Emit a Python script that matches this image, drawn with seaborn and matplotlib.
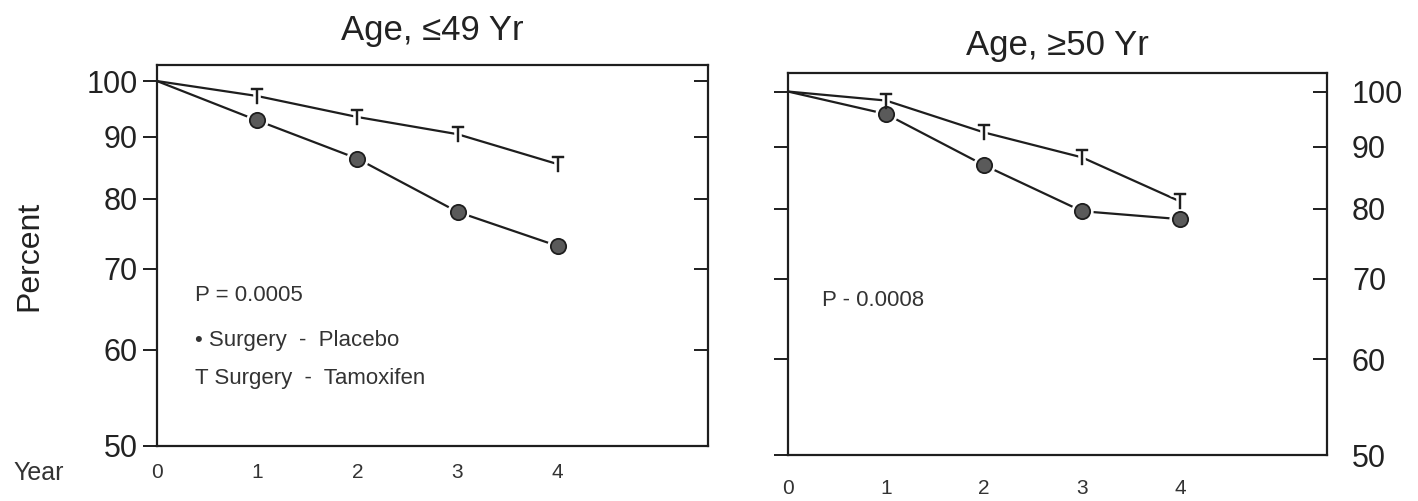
import matplotlib
matplotlib.use("Agg")

import matplotlib.pyplot as plt
import numpy as np
import pandas as pd
import seaborn as sns

# ─── DATA ────────────────────────────────────────────────────────
years = [0, 1, 2, 3, 4]
young_placebo   = [100, 92.8, 86.3, 78.0, 73.1]
young_tamoxifen = [100, 97.2, 93.4, 90.4, 85.4]
old_placebo     = [100, 95.8, 86.9, 79.6, 78.4]
old_tamoxifen   = [100, 98.3, 92.5, 88.2, 81.1]

titles   = ["Age, \u226449 Yr", "Age, \u226550 Yr"]
p_texts  = ["P = 0.0005", "P - 0.0008"]
y_ticks  = [50, 60, 70, 80, 90, 100]
x_ticks  = [0, 1, 2, 3, 4, 5]
x_labels = ["0", "1", "2", "3", "4", ""]

# ─── STYLE ───────────────────────────────────────────────────────
sns.set_style("white")
plt.rcParams["font.family"] = ["Liberation Sans", "DejaVu Sans"]
INK  = "#1e1e1e"
DOT  = "#5a5a5a"
T_MK = r"$\mathrm{T}$"

fig = plt.figure(figsize=(14.18, 5.01), dpi=100)
ax_l = fig.add_axes([0.1107, 0.1098, 0.3886, 0.7605])
ax_r = fig.add_axes([0.5557, 0.0918, 0.3801, 0.7615])


def draw_panel(ax, placebo, tamoxifen):
    df = pd.DataFrame({"year": years * 2,
                       "pct": placebo + tamoxifen,
                       "arm": ["Placebo"] * len(years) + ["Tamoxifen"] * len(years)})
    sns.lineplot(data=df, x="year", y="pct", units="arm", estimator=None,
                 color=INK, linewidth=1.6, ax=ax, legend=False)
    pts = df[df["year"] > 0]
    plc = pts[pts["arm"] == "Placebo"]
    tam = pts[pts["arm"] == "Tamoxifen"]
    # white halo so the lines break around the symbols
    ax.plot(plc["year"], plc["pct"], ls="none", marker="o", ms=15, color="white", zorder=3)
    ax.plot(plc["year"], plc["pct"], ls="none", marker="o", ms=11,
            mfc=DOT, mec=INK, mew=1.3, zorder=4)
    ax.plot(tam["year"], tam["pct"], ls="none", marker=T_MK, ms=13,
            color="white", mew=4, zorder=3)
    ax.plot(tam["year"], tam["pct"], ls="none", marker=T_MK, ms=11,
            color=INK, mew=0.3, zorder=4)


draw_panel(ax_l, young_placebo, young_tamoxifen)
draw_panel(ax_r, old_placebo, old_tamoxifen)

for ax, top in [(ax_l, 103.1), (ax_r, 103.5)]:
    ax.set_yscale("log")
    ax.set_ylim(50, top)
    ax.set_xlim(0, 5.5)
    ax.set_yticks(y_ticks)
    ax.yaxis.set_minor_locator(matplotlib.ticker.NullLocator())
    ax.set_xticks(x_ticks)
    ax.set_xticklabels(x_labels)
    ax.set_xlabel("")
    ax.set_ylabel("")
    for sp in ax.spines.values():
        sp.set_visible(True)
        sp.set_color(INK)
        sp.set_linewidth(1.6)
    ax.tick_params(axis="x", direction="in", length=9, width=1.4,
                   color=INK, labelsize=15, labelcolor="#333333")

# left panel: labels on the left, bare ticks inside on the right
ax_l.set_yticklabels([str(v) for v in y_ticks])
ax_l.tick_params(axis="y", which="major", left=True, right=True, length=10,
                 width=1.4, color=INK, labelsize=22, pad=4, labelcolor="#222222")
ax_l.tick_params(axis="y", which="major", direction="out")
for t in ax_l.yaxis.get_major_ticks():
    t.tick2line.set_marker(matplotlib.lines.TICKLEFT)
ax_l.tick_params(axis="x", pad=12)
ax_l.set_ylabel("Percent", fontsize=23, color="#222222")
ax_l.yaxis.set_label_coords(-0.205, 0.5)
ax_l.set_title(titles[0], fontsize=25, pad=18, color="#222222")

# right panel: bare ticks outside on the left, labels far to the right
ax_r.yaxis.tick_right()
ax_r.set_yticklabels([str(v) for v in y_ticks])
ax_r.tick_params(axis="y", which="major", left=True, right=True, direction="in",
                 length=10, width=1.4, color=INK, labelsize=22, pad=18,
                 labelcolor="#222222")
for t in ax_r.yaxis.get_major_ticks():
    t.tick1line.set_marker(matplotlib.lines.TICKLEFT)
ax_r.tick_params(axis="x", pad=17)
ax_r.set_title(titles[1], fontsize=25, pad=13, color="#222222")

# annotations and key
txt = dict(fontsize=16, color="#333333", va="center", ha="left")
ax_l.text(0.069, 0.396, p_texts[0], transform=ax_l.transAxes, **txt)
ax_l.text(0.069, 0.278, "\u2022 Surgery  -  Placebo", transform=ax_l.transAxes, **txt)
ax_l.text(0.069, 0.178, "T Surgery  -  Tamoxifen", transform=ax_l.transAxes, **txt)
ax_r.text(0.063, 0.406, p_texts[1], transform=ax_r.transAxes, **txt)

fig.text(13 / 1418, 1 - 473 / 501, "Year", fontsize=18, color="#333333",
         ha="left", va="center")

fig.savefig("out.png", dpi=100, facecolor="white")
